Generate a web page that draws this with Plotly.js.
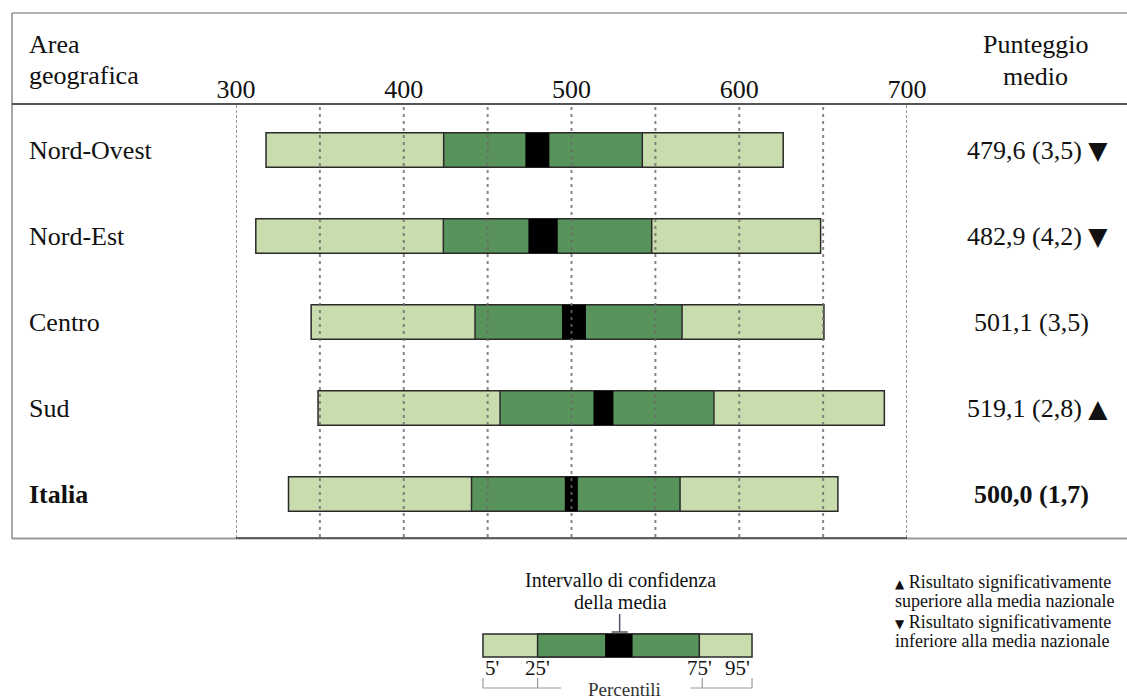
<!DOCTYPE html>
<html>
<head>
<meta charset="utf-8">
<script src="https://cdn.plot.ly/plotly-3.0.1.min.js"></script>
<style>html,body{margin:0;padding:0;background:#fff;}#chart{width:1127px;height:700px;}</style>
</head>
<body>
<div id="chart"></div>
<script>
// ---- data ----
const regions = ['Nord-Ovest', 'Nord-Est', 'Centro', 'Sud', 'Italia'];
const p5 = [317.9, 311.8, 344.8, 348.9, 331.3];
const p25 = [423.8, 423.6, 442.5, 457.4, 440.4];
const p75 = [542.2, 547.8, 565.9, 584.9, 564.7];
const p95 = [626.2, 648.5, 650.5, 686.5, 658.8];
const ciLow = [472.5, 474.3, 494.3, 513.1, 496.0];
const ciHigh = [486.8, 491.8, 508.6, 525.0, 503.8];
const means = [479.6, 482.9, 501.1, 519.1, 500.0];
const stdErr = [3.5, 4.2, 3.5, 2.8, 1.7];
const significance = ['down', 'down', '', 'up', ''];
const tickValues = [300, 400, 500, 600, 700];
const gridValues = [350, 400, 450, 500, 550, 600, 650];
// legend key (schematic bar, 0-100 scale)
const keyStart = [0, 20.3, 45.4];
const keyEnd = [100, 80.4, 55.6];
const keyLabels = ["5'", "25'", "75'", "95'"];
const keyLabelPos = [0, 20.3, 80.4, 100];

// ---- helpers ----
const W = 1127, H = 700;
const px = x => x / W;
const py = y => 1 - y / H;
const SERIF = 'Liberation Serif, Times New Roman, serif';
const LIGHT = '#c9dcae', DARK = '#58935b', EDGE = '#2a2a2a';
const fmt = v => v.toFixed(1).replace('.', ',');

const traces = [
  {type: 'bar', orientation: 'h', y: regions, base: p5, x: p95.map((v, i) => v - p5[i]),
   width: 0.4, marker: {color: LIGHT, line: {color: EDGE, width: 1.5}}, hoverinfo: 'skip'},
  {type: 'bar', orientation: 'h', y: regions, base: p25, x: p75.map((v, i) => v - p25[i]),
   width: 0.4, marker: {color: DARK, line: {color: EDGE, width: 1.5}}, hoverinfo: 'skip'},
  {type: 'bar', orientation: 'h', y: regions, base: ciLow, x: ciHigh.map((v, i) => v - ciLow[i]),
   width: 0.4, marker: {color: '#000', line: {color: '#000', width: 0}}, hoverinfo: 'skip'},
  // legend key bar
  {type: 'bar', orientation: 'h', xaxis: 'x2', yaxis: 'y2', y: [0], base: [keyStart[0]], x: [keyEnd[0] - keyStart[0]],
   width: 1, marker: {color: LIGHT, line: {color: EDGE, width: 1.5}}, hoverinfo: 'skip'},
  {type: 'bar', orientation: 'h', xaxis: 'x2', yaxis: 'y2', y: [0], base: [keyStart[1]], x: [keyEnd[1] - keyStart[1]],
   width: 1, marker: {color: DARK, line: {color: EDGE, width: 1.5}}, hoverinfo: 'skip'},
  {type: 'bar', orientation: 'h', xaxis: 'x2', yaxis: 'y2', y: [0], base: [keyStart[2]], x: [keyEnd[2] - keyStart[2]],
   width: 1, marker: {color: '#000', line: {width: 0}}, hoverinfo: 'skip'}
];

const shapes = [];
// frame
shapes.push({type: 'line', xref: 'paper', yref: 'paper', x0: px(12), x1: 1, y0: py(13), y1: py(13), line: {color: '#9a9a9a', width: 1.5}});
shapes.push({type: 'line', xref: 'paper', yref: 'paper', x0: px(12), x1: px(12), y0: py(13), y1: py(539), line: {color: '#8a8a8a', width: 1.5}});
shapes.push({type: 'line', xref: 'paper', yref: 'paper', x0: px(12), x1: 1, y0: py(104), y1: py(104), line: {color: '#555', width: 2}});
shapes.push({type: 'line', xref: 'paper', yref: 'paper', x0: px(12), x1: 1, y0: py(538.5), y1: py(538.5), line: {color: '#9a9a9a', width: 2}});
shapes.push({type: 'line', xref: 'x', yref: 'paper', x0: 300, x1: 700, y0: py(538), y1: py(538), line: {color: '#444', width: 1.5}});
// plot box sides
[300, 700].forEach(v => shapes.push({type: 'line', xref: 'x', yref: 'paper', x0: v, x1: v, y0: py(538), y1: py(104),
  line: {color: '#333', width: 1, dash: '3px,2px'}, layer: 'above'}));
// dotted grid over the bars
gridValues.forEach(v => shapes.push({type: 'line', xref: 'x', yref: 'paper', x0: v, x1: v, y0: py(537), y1: py(105),
  line: {color: 'rgba(105,105,105,0.8)', width: 2, dash: '3px,4px'}, layer: 'above'}));
// legend pointer (⊥) and percentile bracket
shapes.push({type: 'line', xref: 'x2', yref: 'paper', x0: 50.8, x1: 50.8, y0: py(614), y1: py(632), line: {color: '#556', width: 1.5}});
shapes.push({type: 'line', xref: 'x2', yref: 'paper', x0: 47.8, x1: 53.8, y0: py(632), y1: py(632), line: {color: '#556', width: 1.5}});
shapes.push({type: 'line', xref: 'x2', yref: 'paper', x0: 0, x1: 29, y0: py(688), y1: py(688), line: {color: '#999', width: 1.2}});
shapes.push({type: 'line', xref: 'x2', yref: 'paper', x0: 77, x1: 100, y0: py(688), y1: py(688), line: {color: '#999', width: 1.2}});
[0, 20.3, 81.5, 100].forEach(v => shapes.push({type: 'line', xref: 'x2', yref: 'paper', x0: v, x1: v, y0: py(678), y1: py(688), line: {color: '#999', width: 1.2}}));

const ann = [];
const txt = (text, x, y, size, anchor, color) => ({
  text: text, xref: 'paper', yref: 'paper', x: px(x), y: py(y), xanchor: anchor || 'center', yanchor: 'middle',
  showarrow: false, font: {family: SERIF, size: size, color: color || '#111'}
});
// headers
ann.push(txt('Area', 27, 45, 26, 'left'));
ann.push(txt('geografica', 27, 76, 26, 'left'));
ann.push(txt('Punteggio', 1035, 45, 26));
ann.push(txt('medio', 1035, 77, 26));
// row labels and values
regions.forEach((r, i) => {
  const bold = r === 'Italia';
  ann.push({text: bold ? '<b>' + r + '</b>' : r, xref: 'paper', yref: 'y', x: px(27), y: r, xanchor: 'left', yanchor: 'middle',
    showarrow: false, font: {family: SERIF, size: 26, color: '#111'}});
  let t = fmt(means[i]) + ' (' + fmt(stdErr[i]) + ')';
  if (bold) t = '<b>' + t + '</b>';
  if (significance[i] === 'up') t += ' <span style="font-family:DejaVu Sans;font-size:25px">▲</span>';
  if (significance[i] === 'down') t += ' <span style="font-family:DejaVu Sans;font-size:25px">▼</span>';
  const cx = significance[i] ? 1037 : 1031;
  ann.push({text: t, xref: 'paper', yref: 'y', x: px(cx), y: r, xanchor: 'center', yanchor: 'middle',
    showarrow: false, font: {family: SERIF, size: 26, color: '#111'}});
});
// legend key texts
ann.push(txt('Intervallo di confidenza', 621, 580, 20));
ann.push(txt('della media', 621, 602, 20));
keyLabels.forEach((l, i) => {
  ann.push({text: l, xref: 'x2', yref: 'paper', x: keyLabelPos[i], y: py(668),
    xanchor: i === 0 ? 'left' : (i === keyLabels.length - 1 ? 'right' : 'center'), yanchor: 'middle',
    showarrow: false, font: {family: SERIF, size: 21, color: '#111'}});
});
ann.push(txt('Percentili', 624, 689, 19, 'center', '#333'));
// significance key
ann.push(txt('<span style="font-family:DejaVu Sans;font-size:12px">▲</span> Risultato significativamente', 893, 582, 18, 'left'));
ann.push(txt('superiore alla media nazionale', 893, 601, 18, 'left'));
ann.push(txt('<span style="font-family:DejaVu Sans;font-size:12px">▼</span> Risultato significativamente', 893, 622, 18, 'left'));
ann.push(txt('inferiore alla media nazionale', 893, 641, 18, 'left'));

const layout = {
  width: W, height: H, margin: {l: 0, r: 0, t: 0, b: 0},
  paper_bgcolor: '#fff', plot_bgcolor: '#fff', showlegend: false, barmode: 'overlay',
  xaxis: {domain: [px(236), px(907)], range: [300, 700], side: 'top', tickvals: tickValues, ticktext: tickValues.map(String),
    ticks: '', showgrid: false, zeroline: false, showline: false, anchor: 'y', fixedrange: true,
    tickfont: {family: SERIF, size: 26, color: '#111'}},
  yaxis: {domain: [py(537), py(104)], type: 'category', range: [4.5, -0.535], showticklabels: false,
    showgrid: false, zeroline: false, showline: false, anchor: 'x', fixedrange: true},
  xaxis2: {domain: [px(477.6), px(757.4)], range: [-2, 102], visible: false, anchor: 'y2', fixedrange: true},
  yaxis2: {domain: [py(659.3), py(631.7)], range: [-0.6, 0.6], visible: false, anchor: 'x2', fixedrange: true},
  shapes: shapes, annotations: ann
};
Plotly.newPlot('chart', traces, layout, {displayModeBar: false, staticPlot: true});
</script>
</body>
</html>
